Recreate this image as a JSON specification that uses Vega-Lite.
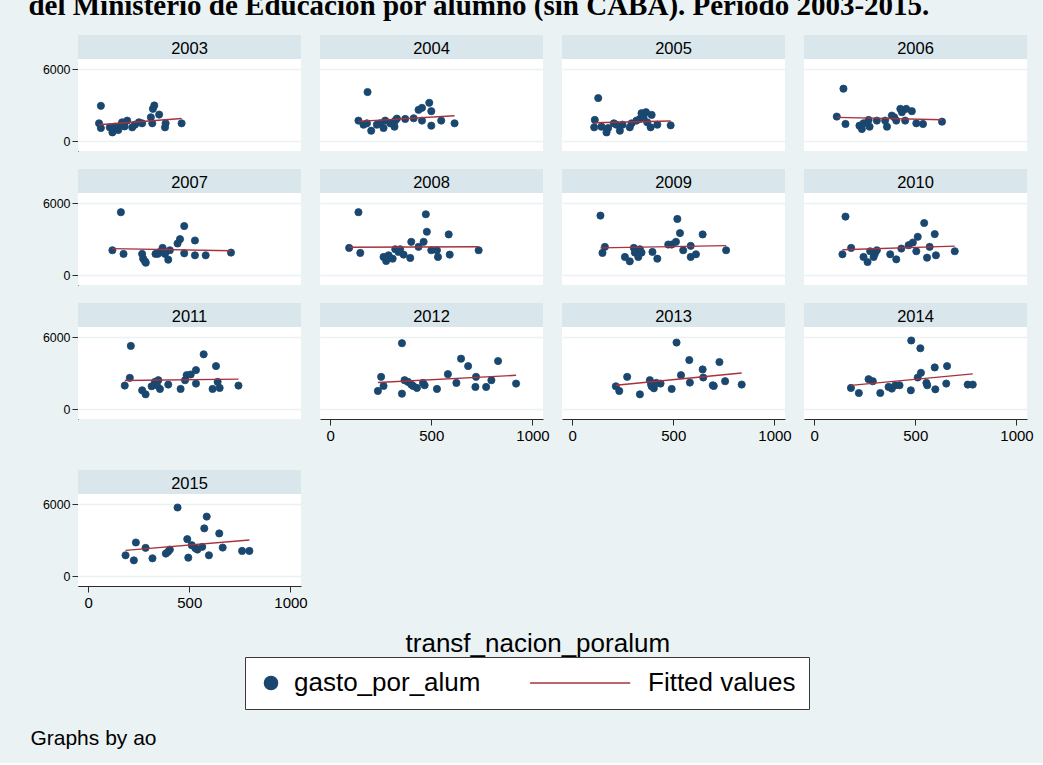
{
"$schema": "https://vega.github.io/schema/vega-lite/v6.json",
"background": "#eaf2f3",
"padding": {"left": 28, "right": 16, "top": -8, "bottom": 14},
"title": {"text": "del Ministerio de Educación por alumno (sin CABA). Período 2003-2015.", "anchor": "start", "font": "Liberation Serif", "fontSize": 29, "fontWeight": "bold", "color": "black", "offset": 14, "dx": -2},
"datasets": {"prov": [
{"ao":2003,"transf":63,"gasto":2957},{"ao":2003,"transf":54,"gasto":1507},{"ao":2003,"transf":63,"gasto":1116},{"ao":2003,"transf":107,"gasto":1170},{"ao":2003,"transf":120,"gasto":753},{"ao":2003,"transf":132,"gasto":1228},{"ao":2003,"transf":149,"gasto":950},{"ao":2003,"transf":162,"gasto":1367},{"ao":2003,"transf":168,"gasto":1590},{"ao":2003,"transf":193,"gasto":1730},{"ao":2003,"transf":218,"gasto":1170},{"ao":2003,"transf":231,"gasto":1395},{"ao":2003,"transf":251,"gasto":1590},{"ao":2003,"transf":267,"gasto":1507},{"ao":2003,"transf":310,"gasto":2009},{"ao":2003,"transf":320,"gasto":2706},{"ao":2003,"transf":327,"gasto":2985},{"ao":2003,"transf":317,"gasto":1507},{"ao":2003,"transf":351,"gasto":2232},{"ao":2003,"transf":380,"gasto":1170},{"ao":2003,"transf":383,"gasto":1507},{"ao":2003,"transf":462,"gasto":1507},{"ao":2003,"transf":180,"gasto":1250},
{"ao":2004,"transf":140,"gasto":1730},{"ao":2004,"transf":165,"gasto":1395},{"ao":2004,"transf":182,"gasto":1507},{"ao":2004,"transf":203,"gasto":893},{"ao":2004,"transf":231,"gasto":1395},{"ao":2004,"transf":248,"gasto":1507},{"ao":2004,"transf":264,"gasto":1116},{"ao":2004,"transf":272,"gasto":1730},{"ao":2004,"transf":322,"gasto":1730},{"ao":2004,"transf":330,"gasto":1897},{"ao":2004,"transf":318,"gasto":1228},{"ao":2004,"transf":371,"gasto":1869},{"ao":2004,"transf":413,"gasto":1925},{"ao":2004,"transf":437,"gasto":2623},{"ao":2004,"transf":454,"gasto":2790},{"ao":2004,"transf":490,"gasto":3209},{"ao":2004,"transf":500,"gasto":2511},{"ao":2004,"transf":454,"gasto":1730},{"ao":2004,"transf":500,"gasto":1311},{"ao":2004,"transf":549,"gasto":1730},{"ao":2004,"transf":615,"gasto":1507},{"ao":2004,"transf":185,"gasto":4101},{"ao":2004,"transf":297,"gasto":1507},
{"ao":2005,"transf":129,"gasto":3599},{"ao":2005,"transf":112,"gasto":1786},{"ao":2005,"transf":109,"gasto":1172},{"ao":2005,"transf":145,"gasto":1228},{"ao":2005,"transf":170,"gasto":753},{"ao":2005,"transf":178,"gasto":1116},{"ao":2005,"transf":206,"gasto":1507},{"ao":2005,"transf":236,"gasto":893},{"ao":2005,"transf":249,"gasto":1395},{"ao":2005,"transf":285,"gasto":1172},{"ao":2005,"transf":294,"gasto":1507},{"ao":2005,"transf":318,"gasto":1730},{"ao":2005,"transf":335,"gasto":1869},{"ao":2005,"transf":343,"gasto":2344},{"ao":2005,"transf":365,"gasto":2427},{"ao":2005,"transf":393,"gasto":2204},{"ao":2005,"transf":371,"gasto":1590},{"ao":2005,"transf":388,"gasto":1172},{"ao":2005,"transf":421,"gasto":1395},{"ao":2005,"transf":487,"gasto":1339},{"ao":2005,"transf":219,"gasto":1395},{"ao":2005,"transf":353,"gasto":2009},
{"ao":2006,"transf":145,"gasto":4380},{"ao":2006,"transf":112,"gasto":2065},{"ao":2006,"transf":155,"gasto":1451},{"ao":2006,"transf":224,"gasto":1311},{"ao":2006,"transf":236,"gasto":1032},{"ao":2006,"transf":269,"gasto":1786},{"ao":2006,"transf":274,"gasto":1228},{"ao":2006,"transf":310,"gasto":1730},{"ao":2006,"transf":351,"gasto":1730},{"ao":2006,"transf":360,"gasto":1228},{"ao":2006,"transf":384,"gasto":2148},{"ao":2006,"transf":406,"gasto":1730},{"ao":2006,"transf":426,"gasto":2706},{"ao":2006,"transf":434,"gasto":2427},{"ao":2006,"transf":455,"gasto":2706},{"ao":2006,"transf":483,"gasto":2511},{"ao":2006,"transf":450,"gasto":1730},{"ao":2006,"transf":505,"gasto":1507},{"ao":2006,"transf":538,"gasto":1451},{"ao":2006,"transf":632,"gasto":1646},{"ao":2006,"transf":244,"gasto":1507},{"ao":2006,"transf":396,"gasto":2009},
{"ao":2007,"transf":162,"gasto":5245},{"ao":2007,"transf":120,"gasto":2093},{"ao":2007,"transf":175,"gasto":1786},{"ao":2007,"transf":267,"gasto":1786},{"ao":2007,"transf":272,"gasto":1395},{"ao":2007,"transf":281,"gasto":1172},{"ao":2007,"transf":285,"gasto":1060},{"ao":2007,"transf":333,"gasto":1786},{"ao":2007,"transf":355,"gasto":1953},{"ao":2007,"transf":368,"gasto":2288},{"ao":2007,"transf":380,"gasto":1786},{"ao":2007,"transf":396,"gasto":1311},{"ao":2007,"transf":404,"gasto":2093},{"ao":2007,"transf":442,"gasto":2651},{"ao":2007,"transf":454,"gasto":3013},{"ao":2007,"transf":475,"gasto":4101},{"ao":2007,"transf":475,"gasto":1841},{"ao":2007,"transf":528,"gasto":2902},{"ao":2007,"transf":528,"gasto":1674},{"ao":2007,"transf":581,"gasto":1674},{"ao":2007,"transf":706,"gasto":1897},{"ao":2007,"transf":345,"gasto":1800},
{"ao":2008,"transf":140,"gasto":5245},{"ao":2008,"transf":94,"gasto":2288},{"ao":2008,"transf":149,"gasto":1869},{"ao":2008,"transf":264,"gasto":1534},{"ao":2008,"transf":277,"gasto":1200},{"ao":2008,"transf":289,"gasto":1674},{"ao":2008,"transf":309,"gasto":1395},{"ao":2008,"transf":322,"gasto":2176},{"ao":2008,"transf":338,"gasto":1953},{"ao":2008,"transf":363,"gasto":1730},{"ao":2008,"transf":396,"gasto":1451},{"ao":2008,"transf":401,"gasto":2790},{"ao":2008,"transf":437,"gasto":2372},{"ao":2008,"transf":462,"gasto":2790},{"ao":2008,"transf":473,"gasto":5078},{"ao":2008,"transf":478,"gasto":3627},{"ao":2008,"transf":500,"gasto":2093},{"ao":2008,"transf":528,"gasto":2093},{"ao":2008,"transf":533,"gasto":1534},{"ao":2008,"transf":586,"gasto":3404},{"ao":2008,"transf":591,"gasto":1730},{"ao":2008,"transf":734,"gasto":2093},{"ao":2008,"transf":346,"gasto":2176},
{"ao":2009,"transf":140,"gasto":4966},{"ao":2009,"transf":162,"gasto":2372},{"ao":2009,"transf":150,"gasto":1869},{"ao":2009,"transf":261,"gasto":1534},{"ao":2009,"transf":285,"gasto":1172},{"ao":2009,"transf":305,"gasto":2288},{"ao":2009,"transf":310,"gasto":1897},{"ao":2009,"transf":327,"gasto":1534},{"ao":2009,"transf":335,"gasto":2176},{"ao":2009,"transf":343,"gasto":1897},{"ao":2009,"transf":397,"gasto":1953},{"ao":2009,"transf":421,"gasto":1395},{"ao":2009,"transf":475,"gasto":2567},{"ao":2009,"transf":492,"gasto":2567},{"ao":2009,"transf":513,"gasto":2790},{"ao":2009,"transf":520,"gasto":4687},{"ao":2009,"transf":533,"gasto":3515},{"ao":2009,"transf":549,"gasto":2093},{"ao":2009,"transf":586,"gasto":2455},{"ao":2009,"transf":586,"gasto":1534},{"ao":2009,"transf":612,"gasto":1758},{"ao":2009,"transf":645,"gasto":3404},{"ao":2009,"transf":761,"gasto":2093},
{"ao":2010,"transf":155,"gasto":4883},{"ao":2010,"transf":140,"gasto":1758},{"ao":2010,"transf":183,"gasto":2288},{"ao":2010,"transf":244,"gasto":1534},{"ao":2010,"transf":264,"gasto":1116},{"ao":2010,"transf":277,"gasto":2009},{"ao":2010,"transf":294,"gasto":1534},{"ao":2010,"transf":310,"gasto":2093},{"ao":2010,"transf":376,"gasto":1758},{"ao":2010,"transf":406,"gasto":1339},{"ao":2010,"transf":431,"gasto":2232},{"ao":2010,"transf":467,"gasto":2511},{"ao":2010,"transf":488,"gasto":2734},{"ao":2010,"transf":512,"gasto":3209},{"ao":2010,"transf":505,"gasto":2009},{"ao":2010,"transf":544,"gasto":4352},{"ao":2010,"transf":571,"gasto":2372},{"ao":2010,"transf":558,"gasto":1479},{"ao":2010,"transf":596,"gasto":3432},{"ao":2010,"transf":602,"gasto":1674},{"ao":2010,"transf":695,"gasto":2009},{"ao":2010,"transf":300,"gasto":1800},
{"ao":2011,"transf":211,"gasto":5273},{"ao":2011,"transf":206,"gasto":2623},{"ao":2011,"transf":181,"gasto":1981},{"ao":2011,"transf":267,"gasto":1590},{"ao":2011,"transf":284,"gasto":1256},{"ao":2011,"transf":314,"gasto":1925},{"ao":2011,"transf":330,"gasto":2288},{"ao":2011,"transf":347,"gasto":2427},{"ao":2011,"transf":355,"gasto":1702},{"ao":2011,"transf":396,"gasto":2065},{"ao":2011,"transf":457,"gasto":1702},{"ao":2011,"transf":479,"gasto":2427},{"ao":2011,"transf":487,"gasto":2846},{"ao":2011,"transf":507,"gasto":2902},{"ao":2011,"transf":533,"gasto":3264},{"ao":2011,"transf":533,"gasto":2148},{"ao":2011,"transf":571,"gasto":4576},{"ao":2011,"transf":632,"gasto":3599},{"ao":2011,"transf":640,"gasto":2288},{"ao":2011,"transf":615,"gasto":1702},{"ao":2011,"transf":650,"gasto":1786},{"ao":2011,"transf":743,"gasto":1981},{"ao":2011,"transf":340,"gasto":2000},
{"ao":2012,"transf":355,"gasto":5496},{"ao":2012,"transf":252,"gasto":2706},{"ao":2012,"transf":236,"gasto":1534},{"ao":2012,"transf":264,"gasto":1953},{"ao":2012,"transf":355,"gasto":1311},{"ao":2012,"transf":368,"gasto":2427},{"ao":2012,"transf":385,"gasto":2288},{"ao":2012,"transf":401,"gasto":2065},{"ao":2012,"transf":429,"gasto":1786},{"ao":2012,"transf":459,"gasto":2204},{"ao":2012,"transf":467,"gasto":2009},{"ao":2012,"transf":528,"gasto":1702},{"ao":2012,"transf":582,"gasto":2930},{"ao":2012,"transf":624,"gasto":2204},{"ao":2012,"transf":647,"gasto":4213},{"ao":2012,"transf":682,"gasto":3599},{"ao":2012,"transf":721,"gasto":2706},{"ao":2012,"transf":718,"gasto":1869},{"ao":2012,"transf":771,"gasto":1869},{"ao":2012,"transf":797,"gasto":2427},{"ao":2012,"transf":830,"gasto":4018},{"ao":2012,"transf":919,"gasto":2148},{"ao":2012,"transf":410,"gasto":1950},
{"ao":2013,"transf":516,"gasto":5552},{"ao":2013,"transf":216,"gasto":1925},{"ao":2013,"transf":233,"gasto":1534},{"ao":2013,"transf":272,"gasto":2706},{"ao":2013,"transf":335,"gasto":1256},{"ao":2013,"transf":384,"gasto":2427},{"ao":2013,"transf":393,"gasto":1925},{"ao":2013,"transf":404,"gasto":1758},{"ao":2013,"transf":416,"gasto":2204},{"ao":2013,"transf":437,"gasto":2148},{"ao":2013,"transf":492,"gasto":1702},{"ao":2013,"transf":538,"gasto":2846},{"ao":2013,"transf":582,"gasto":2232},{"ao":2013,"transf":579,"gasto":4101},{"ao":2013,"transf":645,"gasto":3320},{"ao":2013,"transf":648,"gasto":2651},{"ao":2013,"transf":695,"gasto":2009},{"ao":2013,"transf":728,"gasto":3934},{"ao":2013,"transf":756,"gasto":2344},{"ao":2013,"transf":838,"gasto":2065},{"ao":2013,"transf":390,"gasto":2100},{"ao":2013,"transf":700,"gasto":1950},
{"ao":2014,"transf":480,"gasto":5720},{"ao":2014,"transf":525,"gasto":5078},{"ao":2014,"transf":182,"gasto":1786},{"ao":2014,"transf":221,"gasto":1367},{"ao":2014,"transf":269,"gasto":2511},{"ao":2014,"transf":290,"gasto":2344},{"ao":2014,"transf":327,"gasto":1367},{"ao":2014,"transf":368,"gasto":1869},{"ao":2014,"transf":384,"gasto":1730},{"ao":2014,"transf":401,"gasto":2009},{"ao":2014,"transf":422,"gasto":2009},{"ao":2014,"transf":478,"gasto":1590},{"ao":2014,"transf":512,"gasto":2651},{"ao":2014,"transf":528,"gasto":3041},{"ao":2014,"transf":555,"gasto":2204},{"ao":2014,"transf":596,"gasto":3487},{"ao":2014,"transf":599,"gasto":1674},{"ao":2014,"transf":653,"gasto":2148},{"ao":2014,"transf":657,"gasto":3599},{"ao":2014,"transf":759,"gasto":2065},{"ao":2014,"transf":784,"gasto":2065},{"ao":2014,"transf":559,"gasto":2009},
{"ao":2015,"transf":442,"gasto":5720},{"ao":2015,"transf":586,"gasto":4966},{"ao":2015,"transf":574,"gasto":3990},{"ao":2015,"transf":648,"gasto":3571},{"ao":2015,"transf":185,"gasto":1758},{"ao":2015,"transf":226,"gasto":1339},{"ao":2015,"transf":236,"gasto":2818},{"ao":2015,"transf":284,"gasto":2372},{"ao":2015,"transf":318,"gasto":1507},{"ao":2015,"transf":384,"gasto":1897},{"ao":2015,"transf":404,"gasto":2232},{"ao":2015,"transf":490,"gasto":3097},{"ao":2015,"transf":495,"gasto":1562},{"ao":2015,"transf":512,"gasto":2595},{"ao":2015,"transf":540,"gasto":2232},{"ao":2015,"transf":564,"gasto":2455},{"ao":2015,"transf":597,"gasto":1758},{"ao":2015,"transf":665,"gasto":2400},{"ao":2015,"transf":761,"gasto":2120},{"ao":2015,"transf":797,"gasto":2120},{"ao":2015,"transf":395,"gasto":2050},{"ao":2015,"transf":530,"gasto":2350}
]},
"data": {"name": "prov"},
"vconcat": [
{
"title": {"text": "Graphs by ao", "orient": "bottom", "anchor": "start", "fontSize": 21, "fontWeight": "normal", "font": "Liberation Sans", "color": "black", "dx": -12, "offset": 18},
"vconcat": [
{
"title": {"text": "transf_nacion_poralum", "orient": "bottom", "anchor": "middle", "fontSize": 26, "fontWeight": "normal", "font": "Liberation Sans", "color": "black", "offset": 12},
"spacing": 18,
"vconcat": [
{
"transform": [{"filter": {"field": "ao", "lte": 2010}}],
"facet": {"field": "ao", "type": "ordinal", "title": null, "header": {"labelFontSize": 16.5, "labelFont": "Liberation Sans", "labelColor": "black", "labelPadding": -30, "labelBaseline": "middle"}},
"columns": 4,
"spacing": {"row": 18, "column": 19},
"spec": {
  "width": 223, "height": 116,
  "layer": [
    {"transform": [{"aggregate": [{"op": "count", "as": "n"}], "groupby": ["ao"]}],
     "mark": {"type": "rect", "color": "#d9e6eb"},
     "encoding": {"x": {"datum": -50, "axis": null}, "x2": {"datum": 1052}, "y": {"datum": 6840}, "y2": {"datum": 8830}}},
    {"mark": {"type": "point", "filled": true, "size": 52, "opacity": 1, "strokeWidth": 0.8},
     "encoding": {
       "x": {"field": "transf", "type": "quantitative", "scale": {"domain": [-50, 1052], "nice": false, "zero": false}, "axis": null},
       "y": {"field": "gasto", "type": "quantitative", "scale": {"domain": [-790, 8830], "nice": false, "zero": false},
             "axis": {"values": [0, 2000, 4000, 6000], "format": "d", "title": null, "grid": true, "gridColor": "#eaf2f3", "gridWidth": 1.6, "labelFontSize": 12.4, "labelFont": "Liberation Sans", "labelColor": "black", "tickSize": 6, "tickColor": "#2b2b2b", "domainColor": "#2b2b2b", "labelPadding": 2, "zindex": 0}},
       "fill": {"datum": "gasto_por_alum", "scale": {"domain": ["gasto_por_alum", "Fitted values"], "range": ["#1a476f", "#a8313c"]},
         "legend": {"orient": "none", "legendX": 167, "legendY": 622, "direction": "horizontal", "title": null, "fillColor": "white", "strokeColor": "#3a3a3a", "padding": 13, "labelFontSize": 26, "labelFont": "Liberation Sans", "labelColor": "black", "labelOffset": 10, "columnPadding": 45, "symbolSize": 169, "symbolStrokeWidth": 1.6, "labelLimit": 400}},
       "stroke": {"datum": "gasto_por_alum", "scale": {"domain": ["gasto_por_alum", "Fitted values"], "range": ["#1a476f", "#a8313c"]},
         "legend": {"orient": "none", "legendX": 167, "legendY": 622, "direction": "horizontal", "title": null, "fillColor": "white", "strokeColor": "#3a3a3a", "padding": 13, "labelFontSize": 26, "labelFont": "Liberation Sans", "labelColor": "black", "labelOffset": 10, "columnPadding": 45, "symbolSize": 169, "symbolStrokeWidth": 1.6, "labelLimit": 400}},
       "shape": {"datum": "gasto_por_alum", "scale": {"domain": ["gasto_por_alum", "Fitted values"], "range": ["circle", "M-14.6,0H0.8"]},
         "legend": {"orient": "none", "legendX": 167, "legendY": 622, "direction": "horizontal", "title": null, "fillColor": "white", "strokeColor": "#3a3a3a", "padding": 13, "labelFontSize": 26, "labelFont": "Liberation Sans", "labelColor": "black", "labelOffset": 10, "columnPadding": 45, "symbolSize": 169, "symbolStrokeWidth": 1.6, "labelLimit": 400}}
     }},
    {"transform": [{"regression": "gasto", "on": "transf", "groupby": ["ao"]}],
     "mark": {"type": "line", "strokeWidth": 1.4},
     "encoding": {"x": {"field": "transf", "type": "quantitative", "axis": null}, "y": {"field": "gasto", "type": "quantitative"},
       "stroke": {"datum": "Fitted values", "scale": {"domain": ["gasto_por_alum", "Fitted values"], "range": ["#1a476f", "#a8313c"]}}}}
  ]
}
},
{
"spacing": 19,
"hconcat": [
{
"transform": [{"filter": {"field": "ao", "equal": 2011}}],
"facet": {"field": "ao", "type": "ordinal", "title": null, "header": {"labelFontSize": 16.5, "labelFont": "Liberation Sans", "labelColor": "black", "labelPadding": -30, "labelBaseline": "middle"}},
"columns": 1,
"spec": {
  "width": 223, "height": 116,
  "layer": [
    {"transform": [{"aggregate": [{"op": "count", "as": "n"}], "groupby": ["ao"]}],
     "mark": {"type": "rect", "color": "#d9e6eb"},
     "encoding": {"x": {"datum": -50, "axis": null}, "x2": {"datum": 1052}, "y": {"datum": 6840}, "y2": {"datum": 8830}}},
    {"mark": {"type": "point", "filled": true, "size": 52, "opacity": 1, "strokeWidth": 0.8},
     "encoding": {
       "x": {"field": "transf", "type": "quantitative", "scale": {"domain": [-50, 1052], "nice": false, "zero": false}, "axis": null},
       "y": {"field": "gasto", "type": "quantitative", "scale": {"domain": [-790, 8830], "nice": false, "zero": false},
             "axis": {"values": [0, 2000, 4000, 6000], "format": "d", "title": null, "grid": true, "gridColor": "#eaf2f3", "gridWidth": 1.6, "labelFontSize": 12.4, "labelFont": "Liberation Sans", "labelColor": "black", "tickSize": 6, "tickColor": "#2b2b2b", "domainColor": "#2b2b2b", "labelPadding": 2, "zindex": 0}},
       "fill": {"datum": "gasto_por_alum", "scale": {"domain": ["gasto_por_alum", "Fitted values"], "range": ["#1a476f", "#a8313c"]}},
       "stroke": {"datum": "gasto_por_alum", "scale": {"domain": ["gasto_por_alum", "Fitted values"], "range": ["#1a476f", "#a8313c"]}},
       "shape": {"datum": "gasto_por_alum", "scale": {"domain": ["gasto_por_alum", "Fitted values"], "range": ["circle", "M-14.6,0H0.8"]}}
     }},
    {"transform": [{"regression": "gasto", "on": "transf", "groupby": ["ao"]}],
     "mark": {"type": "line", "strokeWidth": 1.4},
     "encoding": {"x": {"field": "transf", "type": "quantitative", "axis": null}, "y": {"field": "gasto", "type": "quantitative"},
       "stroke": {"datum": "Fitted values", "scale": {"domain": ["gasto_por_alum", "Fitted values"], "range": ["#1a476f", "#a8313c"]}}}}
  ]
}
},
{
"transform": [{"filter": {"field": "ao", "range": [2012, 2014]}}],
"facet": {"field": "ao", "type": "ordinal", "title": null, "header": {"labelFontSize": 16.5, "labelFont": "Liberation Sans", "labelColor": "black", "labelPadding": -30, "labelBaseline": "middle"}},
"columns": 3,
"spacing": {"row": 18, "column": 19},
"spec": {
  "width": 223, "height": 116,
  "layer": [
    {"transform": [{"aggregate": [{"op": "count", "as": "n"}], "groupby": ["ao"]}],
     "mark": {"type": "rect", "color": "#d9e6eb"},
     "encoding": {"x": {"datum": -50}, "x2": {"datum": 1052}, "y": {"datum": 6840}, "y2": {"datum": 8830}}},
    {"mark": {"type": "point", "filled": true, "size": 52, "opacity": 1, "strokeWidth": 0.8},
     "encoding": {
       "x": {"field": "transf", "type": "quantitative", "scale": {"domain": [-50, 1052], "nice": false, "zero": false},
             "axis": {"values": [0, 500, 1000], "format": "d", "title": null, "grid": false, "labelFontSize": 15, "labelFont": "Liberation Sans", "labelColor": "black", "tickSize": 6, "tickColor": "#2b2b2b", "domainColor": "#2b2b2b", "labelPadding": 3, "minExtent": 33, "zindex": 0, "labelFlush": false}},
       "y": {"field": "gasto", "type": "quantitative", "scale": {"domain": [-790, 8830], "nice": false, "zero": false},
             "axis": {"values": [0, 2000, 4000, 6000], "title": null, "grid": true, "gridColor": "#eaf2f3", "gridWidth": 1.6, "labels": false, "ticks": false, "domain": false, "minExtent": 0, "zindex": 0}},
       "fill": {"datum": "gasto_por_alum", "scale": {"domain": ["gasto_por_alum", "Fitted values"], "range": ["#1a476f", "#a8313c"]}},
       "stroke": {"datum": "gasto_por_alum", "scale": {"domain": ["gasto_por_alum", "Fitted values"], "range": ["#1a476f", "#a8313c"]}},
       "shape": {"datum": "gasto_por_alum", "scale": {"domain": ["gasto_por_alum", "Fitted values"], "range": ["circle", "M-14.6,0H0.8"]}}
     }},
    {"transform": [{"regression": "gasto", "on": "transf", "groupby": ["ao"]}],
     "mark": {"type": "line", "strokeWidth": 1.4},
     "encoding": {"x": {"field": "transf", "type": "quantitative"}, "y": {"field": "gasto", "type": "quantitative"},
       "stroke": {"datum": "Fitted values", "scale": {"domain": ["gasto_por_alum", "Fitted values"], "range": ["#1a476f", "#a8313c"]}}}}
  ]
}
}
]
},
{
"transform": [{"filter": {"field": "ao", "equal": 2015}}],
"facet": {"field": "ao", "type": "ordinal", "title": null, "header": {"labelFontSize": 16.5, "labelFont": "Liberation Sans", "labelColor": "black", "labelPadding": -30, "labelBaseline": "middle"}},
"columns": 1,
"spec": {
  "width": 223, "height": 116,
  "layer": [
    {"transform": [{"aggregate": [{"op": "count", "as": "n"}], "groupby": ["ao"]}],
     "mark": {"type": "rect", "color": "#d9e6eb"},
     "encoding": {"x": {"datum": -50}, "x2": {"datum": 1052}, "y": {"datum": 6840}, "y2": {"datum": 8830}}},
    {"mark": {"type": "point", "filled": true, "size": 52, "opacity": 1, "strokeWidth": 0.8},
     "encoding": {
       "x": {"field": "transf", "type": "quantitative", "scale": {"domain": [-50, 1052], "nice": false, "zero": false},
             "axis": {"values": [0, 500, 1000], "format": "d", "title": null, "grid": false, "labelFontSize": 15, "labelFont": "Liberation Sans", "labelColor": "black", "tickSize": 6, "tickColor": "#2b2b2b", "domainColor": "#2b2b2b", "labelPadding": 3, "minExtent": 33, "zindex": 0, "labelFlush": false}},
       "y": {"field": "gasto", "type": "quantitative", "scale": {"domain": [-790, 8830], "nice": false, "zero": false},
             "axis": {"values": [0, 2000, 4000, 6000], "format": "d", "title": null, "grid": true, "gridColor": "#eaf2f3", "gridWidth": 1.6, "labelFontSize": 12.4, "labelFont": "Liberation Sans", "labelColor": "black", "tickSize": 6, "tickColor": "#2b2b2b", "domainColor": "#2b2b2b", "labelPadding": 2, "zindex": 0}},
       "fill": {"datum": "gasto_por_alum", "scale": {"domain": ["gasto_por_alum", "Fitted values"], "range": ["#1a476f", "#a8313c"]}},
       "stroke": {"datum": "gasto_por_alum", "scale": {"domain": ["gasto_por_alum", "Fitted values"], "range": ["#1a476f", "#a8313c"]}},
       "shape": {"datum": "gasto_por_alum", "scale": {"domain": ["gasto_por_alum", "Fitted values"], "range": ["circle", "M-14.6,0H0.8"]}}
     }},
    {"transform": [{"regression": "gasto", "on": "transf", "groupby": ["ao"]}],
     "mark": {"type": "line", "strokeWidth": 1.4},
     "encoding": {"x": {"field": "transf", "type": "quantitative"}, "y": {"field": "gasto", "type": "quantitative"},
       "stroke": {"datum": "Fitted values", "scale": {"domain": ["gasto_por_alum", "Fitted values"], "range": ["#1a476f", "#a8313c"]}}}}
  ]
}
}
]
}
]
}
],
"resolve": {"legend": {"fill": "independent", "stroke": "independent", "shape": "independent"}},
"config": {"view": {"fill": "white", "stroke": null}, "font": "Liberation Sans"}
}
